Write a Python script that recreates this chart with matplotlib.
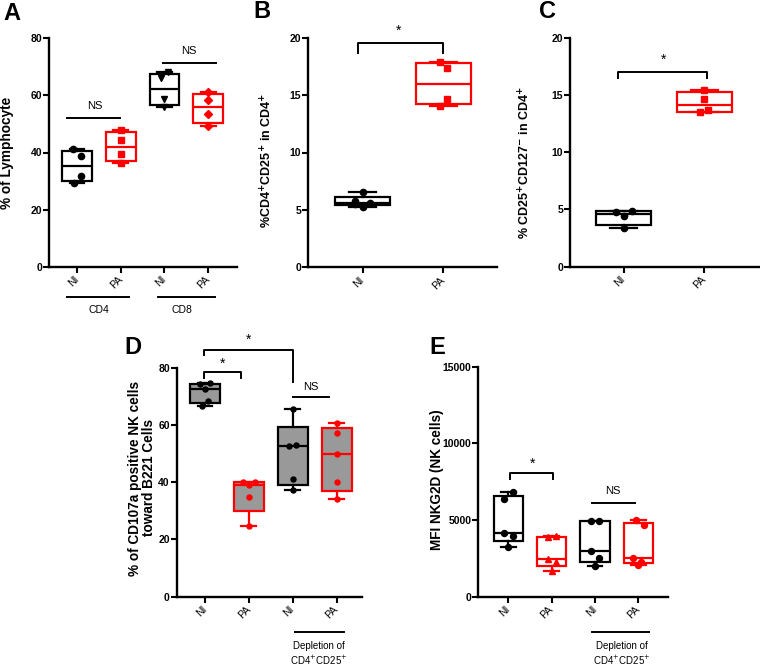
import numpy as np
import matplotlib
matplotlib.use("Agg")
import matplotlib.pyplot as plt
from matplotlib import transforms

plt.rcParams['font.family'] = ['Liberation Sans', 'DejaVu Sans']

W, H = 760, 666
RED = '#FF0000'
GREY = '#999999'

# ---- data ----
# A: % of lymphocytes
a_ticks = ['NI', 'PA', 'NI', 'PA']
a_cd4_ni = [29.3, 31.9, 38.9, 41.2]
a_cd4_pa = [36.2, 39.4, 44.4, 47.9]
a_cd8_ni = [55.9, 58.8, 66.0, 68.1]
a_cd8_pa = [49.3, 53.4, 58.5, 61.3]

# B: %CD4+CD25+ in CD4+
b_ticks = ['NI', 'PA']
b_ni = [5.22, 5.55, 5.63, 5.80, 6.53]
b_pa = [14.05, 14.66, 17.33, 17.91]

# C: % CD25+CD127- in CD4+
c_ticks = ['NI', 'PA']
c_ni = [3.41, 4.46, 4.80, 4.85]
c_pa = [13.5, 13.7, 14.62, 15.43]

# D: % CD107a positive NK cells
d_ticks = ['NI', 'PA', 'NI', 'PA']
d_ni = [66.7, 68.4, 72.6, 74.2, 74.5]
d_pa = [24.8, 34.8, 39.0, 39.9, 40.0]
d_dep_ni = [37.3, 41.0, 52.8, 53.0, 65.6]
d_dep_pa = [34.0, 40.2, 49.7, 57.1, 60.6]

# E: MFI NKG2D
e_ticks = ['NI', 'PA', 'NI', 'PA']
e_ni = [3240, 3970, 4150, 6380, 6800]
e_pa = [1700, 2240, 2460, 3900, 3930]
e_dep_ni = [2000, 2543, 2957, 4935, 4950]
e_dep_pa = [2065, 2283, 2500, 4674, 5000]

# horizontal spread of points (Prism-style scatter), per group
off_a = [[-0.07, 0.09, 0.09, -0.08], [0, 0, 0, 0], [0, 0, -0.08, 0.09], [0, 0, 0, 0]]
off_b = [[0, -0.09, 0.09, -0.09, 0], [-0.04, 0.05, 0.05, -0.04]]
off_c = [[0, 0, -0.09, 0.1], [-0.05, 0.05, 0, 0]]
off_d = [[-0.07, 0.07, 0, -0.11, 0.12], [0, 0, 0, -0.13, 0.14],
         [0, 0, -0.08, 0.07, 0], [0, 0, 0, 0, 0]]
off_e = [[0, 0.1, -0.1, -0.1, 0.1], [0, 0.1, -0.09, -0.09, 0.1],
         [0, 0.08, -0.09, -0.09, 0.1], [0, 0.06, -0.13, 0.12, -0.05]]

fig = plt.figure(figsize=(W / 100, H / 100), dpi=100)


def px_axes(l, t, r, b):
    return fig.add_axes([l / W, 1 - b / H, (r - l) / W, (b - t) / H])


def box_stats(vals):
    v = np.asarray(vals, dtype=float)
    q1, med, q3 = np.percentile(v, [25, 50, 75], method='weibull')
    return dict(med=med, q1=q1, q3=q3, whislo=v.min(), whishi=v.max(), fliers=[])


def draw_box(ax, pos, vals, color, face, marker, ms, offsets):
    ax.bxp([box_stats(vals)], positions=[pos], widths=0.68, showfliers=False,
           patch_artist=True, manage_ticks=False,
           boxprops=dict(facecolor=face, edgecolor=color, linewidth=1.6),
           medianprops=dict(color=color, linewidth=1.6),
           whiskerprops=dict(color=color, linewidth=1.6),
           capprops=dict(color=color, linewidth=1.6))
    ax.plot(pos + np.asarray(offsets), vals, marker, color=color, ms=ms,
            ls='none', zorder=4, clip_on=False)


def style_axes(ax, xlim, ylim, yticks, ticks):
    ax.set_xlim(*xlim)
    ax.set_ylim(*ylim)
    ax.set_yticks(yticks)
    ax.set_xticks(range(1, len(ticks) + 1))
    ax.set_xticklabels(ticks, rotation=45, ha='right', va='center',
                       rotation_mode='anchor', fontsize=7.5)
    for s in ['top', 'right']:
        ax.spines[s].set_visible(False)
    for s in ['left', 'bottom']:
        ax.spines[s].set_linewidth(1.7)
    ax.tick_params(axis='both', direction='out', length=4, width=1.5)
    ax.tick_params(axis='y', labelsize=7.5, pad=1)
    ax.tick_params(axis='x', pad=4)
    for lab in ax.get_yticklabels():
        lab.set_fontweight('bold')
    ax.patch.set_alpha(0)


def hline(ax, x0, x1, y):
    ax.plot([x0, x1], [y, y], color='k', lw=1.4, clip_on=False)


def bracket(ax, x0, x1, y, y0, y1):
    ax.plot([x0, x0, x1, x1], [y0, y, y, y1], color='k', lw=1.4, clip_on=False)


def below(ax, x0, x1, ypx):
    tr = transforms.blended_transform_factory(ax.transData, fig.transFigure)
    ax.plot([x0, x1], [1 - ypx / H] * 2, color='k', lw=1.4, transform=tr, clip_on=False)
    return tr


# ---- A ----
axA = px_axes(49, 38.3, 237, 266.7)
draw_box(axA, 1, a_cd4_ni, 'k', 'white', 'o', 4.5, off_a[0])
draw_box(axA, 2, a_cd4_pa, RED, 'white', 's', 4.5, off_a[1])
draw_box(axA, 3, a_cd8_ni, 'k', 'white', 'v', 4.5, off_a[2])
draw_box(axA, 4, a_cd8_pa, RED, 'white', 'D', 3.8, off_a[3])
style_axes(axA, (0.36, 4.66), (0, 80), [0, 20, 40, 60, 80], a_ticks)
hline(axA, 0.77, 1.98, 52.0)
axA.text(1.4, 56.2, 'NS', ha='center', va='center', fontsize=8)
hline(axA, 2.96, 4.17, 71.5)
axA.text(3.55, 75.7, 'NS', ha='center', va='center', fontsize=8)
tr = below(axA, 0.77, 2.2, 296.7)
axA.text(1.5, 1 - 310 / H, 'CD4', transform=tr, ha='center', va='center', fontsize=7.5)
below(axA, 2.86, 4.15, 296.7)
axA.text(3.4, 1 - 310 / H, 'CD8', transform=tr, ha='center', va='center', fontsize=7.5)

# ---- B ----
axB = px_axes(308.3, 37.7, 496.7, 267.3)
draw_box(axB, 1, b_ni, 'k', 'white', 'o', 4.5, off_b[0])
draw_box(axB, 2, b_pa, RED, 'white', 's', 5, off_b[1])
style_axes(axB, (0.327, 2.66), (0, 20), [0, 5, 10, 15, 20], b_ticks)
bracket(axB, 0.94, 2.0, 19.5, 18.7, 18.7)
axB.text(1.45, 20.6, '*', ha='center', va='center', fontsize=10)

# ---- C ----
axC = px_axes(570, 37.7, 759, 266.7)
draw_box(axC, 1, c_ni, 'k', 'white', 'o', 4.5, off_c[0])
draw_box(axC, 2, c_pa, RED, 'white', 's', 5, off_c[1])
style_axes(axC, (0.333, 2.68), (0, 20), [0, 5, 10, 15, 20], c_ticks)
bracket(axC, 0.93, 2.03, 17.03, 16.45, 16.45)
axC.text(1.5, 18.1, '*', ha='center', va='center', fontsize=10)

# ---- D ----
axD = px_axes(176.7, 367.7, 361.7, 596.7)
draw_box(axD, 1, d_ni, 'k', GREY, 'o', 3.6, off_d[0])
draw_box(axD, 2, d_pa, RED, GREY, 'o', 3.6, off_d[1])
draw_box(axD, 3, d_dep_ni, 'k', GREY, 'o', 3.6, off_d[2])
draw_box(axD, 4, d_dep_pa, RED, GREY, 'o', 3.6, off_d[3])
style_axes(axD, (0.355, 4.57), (0, 80), [0, 20, 40, 60, 80], d_ticks)
bracket(axD, 0.97, 1.81, 78.4, 76.3, 76.3)
axD.text(1.4, 81.2, '*', ha='center', va='center', fontsize=10)
bracket(axD, 0.97, 3.0, 86.2, 84.4, 75.1)
axD.text(2.0, 89.6, '*', ha='center', va='center', fontsize=10)
hline(axD, 3.0, 3.82, 69.9)
axD.text(3.41, 73.4, 'NS', ha='center', va='center', fontsize=8)
tr = below(axD, 3.04, 4.17, 632.3)
axD.text(3.6, 1 - 646 / H, 'Depletion of', transform=tr, ha='center', va='center', fontsize=7)
axD.text(3.6, 1 - 660 / H, 'CD4$^{+}$CD25$^{+}$', transform=tr, ha='center', va='center', fontsize=7)

# ---- E ----
axE = px_axes(478.3, 366.7, 668.3, 596.7)
draw_box(axE, 1, e_ni, 'k', 'white', 'o', 4.3, off_e[0])
draw_box(axE, 2, e_pa, RED, 'white', '^', 4.3, off_e[1])
draw_box(axE, 3, e_dep_ni, 'k', 'white', 'o', 4.3, off_e[2])
draw_box(axE, 4, e_dep_pa, RED, 'white', 'o', 4.3, off_e[3])
style_axes(axE, (0.307, 4.69), (0, 15000), [0, 5000, 10000, 15000], e_ticks)
bracket(axE, 1.04, 2.04, 8043, 7673, 7673)
axE.text(1.56, 8700, '*', ha='center', va='center', fontsize=10)
hline(axE, 2.94, 3.93, 6130)
axE.text(3.42, 6913, 'NS', ha='center', va='center', fontsize=8)
tr = below(axE, 2.92, 4.25, 632.3)
axE.text(3.61, 1 - 646 / H, 'Depletion of', transform=tr, ha='center', va='center', fontsize=7)
axE.text(3.61, 1 - 660 / H, 'CD4$^{+}$CD25$^{+}$', transform=tr, ha='center', va='center', fontsize=7)

# ---- y labels ----
ylab = dict(rotation=90, ha='center', va='center', fontsize=9.8, fontweight='bold')
fig.text(7 / W, 1 - 153 / H, '% of Lymphocyte', **ylab)
ylab_sup = dict(ylab, fontsize=9)
fig.text(267 / W, 1 - 160 / H, '%CD4$^{\\mathbf{+}}$CD25$^{\\mathbf{+}}$ in CD4$^{\\mathbf{+}}$', **ylab_sup)
fig.text(525 / W, 1 - 163 / H, '% CD25$^{\\mathbf{+}}$CD127$^{\\mathbf{-}}$ in CD4$^{\\mathbf{+}}$', **ylab_sup)
fig.text(142 / W, 1 - 478 / H, '% of CD107a positive NK cells\ntoward B221 Cells',
         linespacing=1.0, **ylab)
fig.text(437 / W, 1 - 480 / H, 'MFI NKG2D (NK cells)', **ylab)

# ---- panel letters ----
for x, y, s in [(12, 13, 'A'), (262, 12, 'B'), (548, 12, 'C'), (133, 347, 'D'), (437, 347, 'E')]:
    fig.text(x / W, 1 - y / H, s, fontsize=17, fontweight='bold', ha='center', va='center')

fig.savefig('out.png', dpi=100)
